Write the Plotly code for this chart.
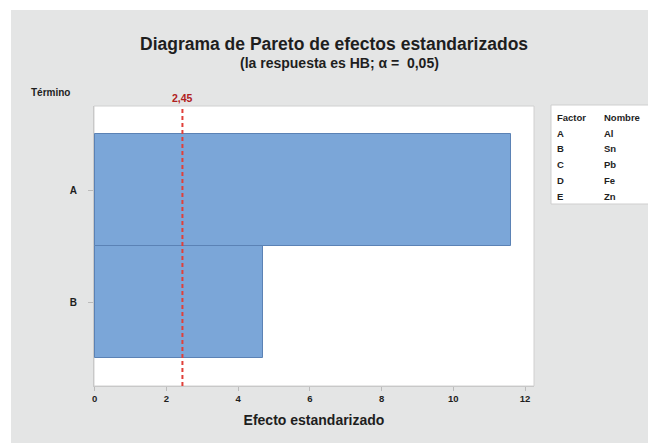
import plotly.graph_objects as go

# datos del diagrama de Pareto
terminos = ["A", "B"]
efectos = [11.62, 4.70]
t_critico = 2.45
etiqueta_critico = "2,45"
x_ticks = [0, 2, 4, 6, 8, 10, 12]

factores = ["A", "B", "C", "D", "E"]
nombres = ["Al", "Sn", "Pb", "Fe", "Zn"]

# la página añade 8 px de margen, la figura se hace 8 px más pequeña
OFF = 8
W, H = 656 - OFF, 443 - OFF
L, T = 94 - OFF, 106 - OFF
R = W - (534 - OFF)
B = H - (386 - OFF)
PW, PH = W - L - R, H - T - B


def px(x):
    # pixel de la ventana -> coordenada paper
    return (x - OFF - L) / PW


def py(y):
    return (H - B - (y - OFF)) / PH


GRIS = "#e4e5e5"
FUENTE = "Liberation Sans, Arial, sans-serif"
NEGRO = "#1e1e1e"

fig = go.Figure()

fig.add_trace(go.Bar(
    x=efectos, y=terminos, orientation="h",
    marker=dict(color="#7ba6d8", line=dict(color="#5b82b5", width=1)),
    width=1.0, showlegend=False, hoverinfo="skip",
))

shapes = [
    # fondo gris de la figura
    dict(type="rect", xref="paper", yref="paper", layer="below",
         x0=px(11), x1=px(W + 20), y0=py(H + 20), y1=py(10),
         fillcolor=GRIS, line=dict(width=0)),
    # área del gráfico
    dict(type="rect", xref="paper", yref="paper", layer="below",
         x0=0, x1=1, y0=0, y1=1,
         fillcolor="white", line=dict(color="#d0d0d0", width=1)),
    # línea de referencia
    dict(type="line", xref="x", yref="paper", x0=t_critico, x1=t_critico,
         y0=0, y1=1, line=dict(color="#e0403a", width=2, dash="4px,3px")),
    # cuadro de la tabla de factores
    dict(type="rect", xref="paper", yref="paper",
         x0=px(551), x1=px(653), y0=py(204), y1=py(105),
         fillcolor="white", line=dict(color="#cfcfcf", width=1)),
]


def texto(t, x, y, size, xanchor="left", color=NEGRO, xref="paper"):
    return dict(text=t, xref=xref, yref="paper", x=x, y=y, xanchor=xanchor,
                yanchor="middle", showarrow=False,
                font=dict(size=size, color=color, family=FUENTE, weight="bold"))


annotations = [
    texto("Diagrama de Pareto de efectos estandarizados", px(334), py(44), 17.5, "center"),
    texto("(la respuesta es HB; α =  0,05)", px(339), py(63), 14, "center"),
    texto("Término", px(29), py(93), 10),
    texto(etiqueta_critico, t_critico, py(98), 10.5, "center", "#b02020", "x"),
    texto("Factor", px(555), py(118), 9.5),
    texto("Nombre", px(602), py(118), 9.5),
]
for i, (f, n) in enumerate(zip(factores, nombres)):
    yy = py(133 + i * 15.8)
    annotations.append(texto(f, px(555), yy, 9.5))
    annotations.append(texto(n, px(602), yy, 9.5))

fig.update_layout(
    width=W, height=H,
    margin=dict(l=L, r=R, t=T, b=B),
    paper_bgcolor="white", plot_bgcolor="white",
    bargap=0,
    font=dict(family=FUENTE, color=NEGRO),
    shapes=shapes, annotations=annotations,
    xaxis=dict(range=[-0.015, 12.25], tickvals=x_ticks, ticks="outside", ticklen=4,
               tickcolor="#bbbbbb", showgrid=False, zeroline=False,
               showline=True, linecolor="#c8c8c8",
               tickfont=dict(size=9.5, color=NEGRO, weight="bold"),
               title=dict(text="Efecto estandarizado",
                          font=dict(size=14, weight="bold"), standoff=11)),
    yaxis=dict(range=[1.75, -0.75], type="category", ticks="outside", ticklen=5,
               tickcolor="#bbbbbb", showgrid=False, zeroline=False,
               showline=True, linecolor="#c8c8c8",
               tickfont=dict(size=10, color=NEGRO, weight="bold"), ticklabelstandoff=9),
)

fig.write_html("out.html")
